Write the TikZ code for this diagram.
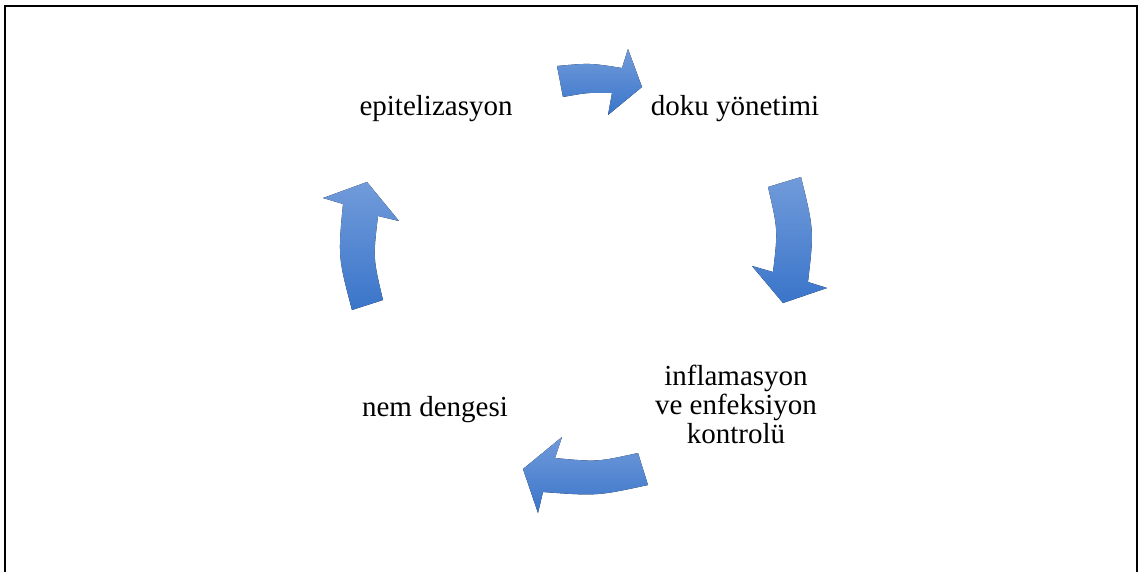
\documentclass[tikz,border=0pt]{standalone}
\usepackage{fontspec}
\setmainfont{Liberation Serif}
\usepackage{xcolor}

\begin{document}
\begin{tikzpicture}[x=1pt, y=-1pt,
    label/.style={font=\fontsize{29}{29}\selectfont, align=center, inner sep=0pt, anchor=base},
    cyclearrow/.style={top color=ArrowTop, bottom color=ArrowBottom, draw=none}]
    \definecolor{ArrowTop}{HTML}{719BDA}
    \definecolor{ArrowBottom}{HTML}{3A75CA}
    \useasboundingbox (0,0) rectangle (1146,572);
    \draw[line width=2pt] (5,606) -- (5,6) -- (1137,6) -- (1137,606);
    % texts
    \node[label] (epi) at (436,116) {epitelizasyon};
    \node[label] (doku) at (735,116) {doku yönetimi};
    \node[label] (infl) at (736,443) {inflamasyon\\ve enfeksiyon\\kontrolü};
    \node[label] (nem) at (435,416) {nem dengesi};
    % arrows
    \fill[cyclearrow] (557,66) .. controls (590,63) .. (622,68) -- (628,49)
        -- (642,87) -- (608,115) -- (612,93) .. controls (588,92.5) .. (563,97) -- cycle;
    \fill[cyclearrow] (768,187) -- (801,177) .. controls (814,230) .. (808,282) -- (827,288)
        -- (783,303) -- (752,266) -- (773,272) .. controls (778,230) .. (768,187) -- cycle;
    \fill[cyclearrow] (638,453) .. controls (597,462) .. (555,458) -- (562,437)
        -- (523,469) -- (538,513) -- (543,492) .. controls (597,496) .. (648,485) -- cycle;
    \fill[cyclearrow] (352,310) .. controls (338,257) .. (343,204) -- (323,198)
        -- (367,182) -- (399,221) -- (378,216) .. controls (373,258) .. (383,300) -- cycle;
\end{tikzpicture}
\end{document}
